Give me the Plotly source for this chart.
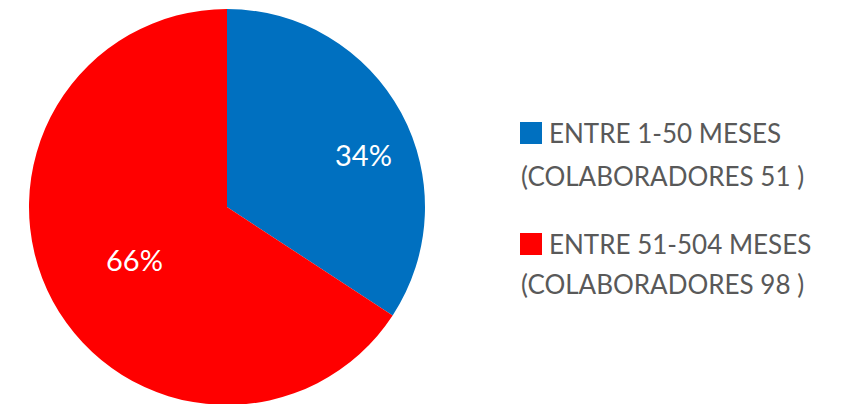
import math
import plotly.graph_objects as go

# ---- data ----
categories = ["ENTRE 1-50 MESES", "ENTRE 51-504 MESES"]
sublabels = ["(COLABORADORES 51 )", "(COLABORADORES 98 )"]
values = [51, 98]
colors = ["#0070C0", "#FF0000"]
label_radius = [0.74, 0.536]    # fraction of radius where % labels sit
label_shift_deg = [7.6, -1.2]   # best-fit angular nudge from slice mid-angle

W, H = 859, 404
OFF = 8  # page body margin offset in screenshot

# pie geometry (figure pixel coords)
cx, cy, R = 219, 199, 198
dom_x = [(cx - R) / W, (cx + R) / W]
dom_y = [1 - (cy + R) / H, 1 - (cy - R) / H]

fig = go.Figure(go.Pie(
    labels=categories,
    values=values,
    marker=dict(colors=colors, line=dict(width=0)),
    sort=False,
    direction="clockwise",
    rotation=0,
    textinfo="none",
    domain=dict(x=dom_x, y=dom_y),
    showlegend=False,
    hovertemplate="%{label}<br>%{value} (%{percent})<extra></extra>",
))

annotations = []
shapes = []

# percentage labels placed near slice mid-angles
total = sum(values)
cum = 0
for v, rf, sh in zip(values, label_radius, label_shift_deg):
    theta = 2 * math.pi * (cum + v / 2) / total + math.radians(sh)
    cum += v
    px = cx + rf * R * math.sin(theta)
    py = cy - rf * R * math.cos(theta)
    annotations.append(dict(
        x=px / W, y=1 - py / H, xref="paper", yref="paper",
        text=f"{round(100 * v / total)}%", showarrow=False,
        xanchor="center", yanchor="middle",
        font=dict(family="Lato", size=29, color="white"),
    ))

# manual legend
leg_sq_x = 520 - OFF
leg_sq = 22
leg_text_x = 547 - OFF
leg_sub_x = 519 - OFF
line1_y = [133 - OFF, 244 - OFF]
line2_y = [176 - OFF, 284 - OFF]
legfont = dict(family="Lato", size=26, color="#595959")
for i, (cat, sub, col) in enumerate(zip(categories, sublabels, colors)):
    yc = line1_y[i]
    shapes.append(dict(
        type="rect", xref="paper", yref="paper",
        x0=leg_sq_x / W, x1=(leg_sq_x + leg_sq) / W,
        y0=1 - (yc + leg_sq / 2) / H, y1=1 - (yc - leg_sq / 2) / H,
        fillcolor=col, line=dict(width=0),
    ))
    annotations.append(dict(
        x=leg_text_x / W, y=1 - yc / H, xref="paper", yref="paper",
        text=cat, showarrow=False, xanchor="left", yanchor="middle",
        font=legfont,
    ))
    annotations.append(dict(
        x=leg_sub_x / W, y=1 - line2_y[i] / H, xref="paper", yref="paper",
        text=sub, showarrow=False, xanchor="left", yanchor="middle",
        font=legfont,
    ))

fig.update_layout(
    width=W, height=H,
    margin=dict(l=0, r=0, t=0, b=0),
    paper_bgcolor="white",
    plot_bgcolor="white",
    annotations=annotations,
    shapes=shapes,
)

fig.write_html("out.html")
